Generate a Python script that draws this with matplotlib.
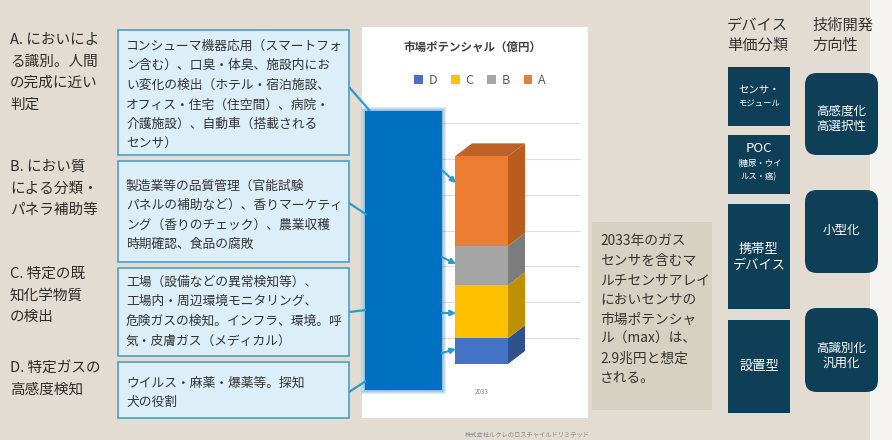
import matplotlib
matplotlib.use('Agg')
import matplotlib.pyplot as plt
import matplotlib.patches as mpatches
import matplotlib.transforms as mtransforms
import numpy as np

plt.rcParams['font.family'] = ['Noto Sans CJK JP', 'DejaVu Sans']

# ---------------- data ----------------
series = ['D', 'C', 'B', 'A']
values = [3600, 7400, 5500, 12500]          # 億円 (2033), total ≈ 2.9兆円
years = ['2033']
grid_ticks = [0, 5000, 10000, 15000, 20000, 25000, 30000]
chart_title = '市場ポテンシャル（億円）'
front_colors = ['#4472C4', '#FFC000', '#A5A5A5', '#ED7D31']
side_colors = ['#2F528F', '#BF9000', '#7C7C7C', '#B95D1F']
top_color = '#BE6327'

cat_labels = [
    ['A. においによ', 'る識別。人間', 'の完成に近い', '判定'],
    ['B. におい質', 'による分類・', 'パネラ補助等'],
    ['C. 特定の既', '知化学物質', 'の検出'],
    ['D. 特定ガスの', '高感度検知'],
]
use_texts = [
    ['コンシューマ機器応用（スマートフォ', 'ン含む）、口臭・体臭、施設内にお',
     'い変化の検出（ホテル・宿泊施設、', 'オフィス・住宅（住空間）、病院・',
     '介護施設）、自動車（搭載される', 'センサ）'],
    ['製造業等の品質管理（官能試験', 'パネルの補助など）、香りマーケティ',
     'ング（香りのチェック）、農業収穫', '時期確認、食品の腐敗'],
    ['工場（設備などの異常検知等）、', '工場内・周辺環境モニタリング、',
     '危険ガスの検知。インフラ、環境。呼', '気・皮膚ガス（メディカル）'],
    ['ウイルス・麻薬・爆薬等。探知', '犬の役割'],
]
summary_lines = ['2033年のガス', 'センサを含むマ', 'ルチセンサアレイ', 'においセンサの',
                 '市場ポテンシャ', 'ル（max）は、', '2.9兆円と想定', 'される。']
device_header = ['デバイス', '単価分類']
direction_header = ['技術開発', '方向性']
device_boxes = [
    [('センサ・', 7.5), ('モジュール', 6)],
    [('POC', 9.5), ('(糖尿・ウイ', 6), ('ルス・癌)', 6)],
    [('携帯型', 9.5), ('デバイス', 9.5)],
    [('設置型', 9.5)],
]
direction_boxes = [['高感度化', '高選択性'], ['小型化'], ['高識別化', '汎用化']]
credit = '株式会社ルクレのロスチャイルドリミテッド'

# ---------------- figure ----------------
W, H = 892, 440
fig = plt.figure(figsize=(W / 100, H / 100), dpi=100)
BG = '#E3DCD2'
fig.patch.set_facecolor(BG)


def fx(x):
    return x / W


def fy(y):
    return 1 - y / H


bg = fig.add_axes([0, 0, 1, 1], zorder=0)
bg.set_xlim(0, W)
bg.set_ylim(H, 0)
bg.axis('off')
bg.patch.set_alpha(0)

# right light strip
bg.add_patch(mpatches.Rectangle((870, 0), W - 870, H, fc='#F5F3EF', ec='none'))
# white chart panel
bg.add_patch(mpatches.Rectangle((362, 27), 226, 391, fc='white', ec='none'))
# summary box
bg.add_patch(mpatches.Rectangle((592, 222), 120, 188, fc='#D7D1C2', ec='none'))

DARK = '#2B2B2B'
# left category labels
label_y0 = [40, 167, 274, 368]
for lines, y0 in zip(cat_labels, label_y0):
    for i, ln in enumerate(lines):
        bg.text(10, y0 + i * 21.5, ln, fontsize=10.5, color=DARK, va='center', ha='left')

# light blue boxes
box_geo = [(30, 155), (161, 262), (268, 356), (362, 418)]
text_y0 = [46, 186, 282, 383]
for (y0, y1), lines, ty in zip(box_geo, use_texts, text_y0):
    bg.add_patch(mpatches.Rectangle((118, y0), 231, y1 - y0, fc='#DCEFF8', ec='#4E9FC4', lw=1.2))
    for i, ln in enumerate(lines):
        bg.text(126, ty + i * 19.6, ln, fontsize=9.2, color='#333333', va='center', ha='left')

# summary text
for i, ln in enumerate(summary_lines):
    bg.text(600, 241 + i * 19.6, ln, fontsize=9.9, color='#333333', va='center', ha='left')

# headers
for i, ln in enumerate(device_header):
    bg.text(727, 25 + i * 20, ln, fontsize=11, color='#333333', va='center', ha='left')
for i, ln in enumerate(direction_header):
    bg.text(812, 25 + i * 20, ln, fontsize=11, color='#333333', va='center', ha='left')

NAVY = '#0F3E57'
dev_geo = [(67, 126), (135, 194), (204, 309), (320, 413)]
dev_text_y = [[90, 103], [148, 164, 177], [249, 265], [366]]
for (y0, y1), items, tys in zip(dev_geo, device_boxes, dev_text_y):
    bg.add_patch(mpatches.Rectangle((728, y0), 62, y1 - y0, fc=NAVY, ec='none'))
    for (t, fs), ty in zip(items, tys):
        bg.text(759, ty, t, fontsize=fs, color='white', va='center', ha='center')

dir_geo = [(73, 155), (190, 273), (308, 392)]
dir_text_y = [[111, 126], [230], [348, 363]]
for (y0, y1), items, tys in zip(dir_geo, direction_boxes, dir_text_y):
    bg.add_patch(mpatches.FancyBboxPatch((805, y0), 73, y1 - y0,
                                         boxstyle='round,pad=0,rounding_size=12',
                                         fc=NAVY, ec='none'))
    for t, ty in zip(items, tys):
        bg.text(841.5, ty, t, fontsize=9, color='white', va='center', ha='center')

# credit
bg.text(527, 434, credit, fontsize=4.5, color='#8A8A8A', va='center', ha='center')

# chart title
bg.text(472, 47, chart_title, fontsize=8.3, color='#404040', fontweight='bold',
        va='center', ha='center')

# ---------------- 3D-like stacked bar ----------------
AX_L, AX_W = 420, 123          # px
BASE_Y = 364                   # px (front base)
PX_PER_UNIT_Y = 35.8 / 5000
ymax = grid_ticks[-1]
ax_h = ymax * PX_PER_UNIT_Y
ax = fig.add_axes([fx(AX_L), fy(BASE_Y), AX_W / W, ax_h / H], zorder=1)
ax.set_xlim(-0.5, 0.5)
ax.set_ylim(0, ymax)
ax.patch.set_alpha(0)
for s in ax.spines.values():
    s.set_visible(False)
ax.set_yticks([])

bw = 53 / AX_W
ddx = 17 / AX_W
ddy = 13 / PX_PER_UNIT_Y
wall_off = mtransforms.ScaledTranslation(0, 26 / 100, fig.dpi_scale_trans)
ax.hlines(grid_ticks, (440 - (AX_L + AX_W / 2)) / AX_W, (580 - (AX_L + AX_W / 2)) / AX_W,
          colors='#DDDDDD', lw=0.8, transform=ax.transData + wall_off,
          clip_on=False, zorder=0)

x_pos = np.arange(len(years))
bottoms = np.concatenate([[0], np.cumsum(values)[:-1]])
handles = []
for s, v, b, fc, sc in zip(series, values, bottoms, front_colors, side_colors):
    h = ax.bar(x_pos, [v], bottom=[b], width=bw, color=fc, zorder=3, label=s)
    handles.append(h)
    x1 = x_pos[0] + bw / 2
    ax.add_patch(mpatches.Polygon([(x1, b), (x1, b + v), (x1 + ddx, b + v + ddy), (x1 + ddx, b + ddy)],
                                  closed=True, fc=sc, ec='none', zorder=2, clip_on=False))
total = float(np.sum(values))
x0 = x_pos[0] - bw / 2
x1 = x_pos[0] + bw / 2
ax.add_patch(mpatches.Polygon([(x0, total), (x1, total), (x1 + ddx, total + ddy), (x0 + ddx, total + ddy)],
                              closed=True, fc=top_color, ec='none', zorder=2, clip_on=False))
ax.set_xticks(x_pos)
ax.set_xticklabels(years)
ax.tick_params(axis='x', length=0, pad=17, labelsize=4.5, labelcolor='#808080')

fig.legend(handles, series, loc='center', bbox_to_anchor=(fx(480), fy(80)), ncol=4,
           frameon=False, fontsize=9, handlelength=0.7, handleheight=0.7,
           handletextpad=0.45, columnspacing=1.1, labelcolor='#595959')

# ---------------- foreground: blue block and arrows ----------------
fg = fig.add_axes([0, 0, 1, 1], zorder=5)
fg.set_xlim(0, W)
fg.set_ylim(H, 0)
fg.axis('off')
fg.patch.set_alpha(0)

LINE = '#2A9AD2'
for (a, b) in [((349, 87), (370, 111)), ((349, 203), (367, 215)),
               ((349, 312), (366, 310)), ((349, 392), (366, 381))]:
    fg.plot([a[0], b[0]], [a[1], b[1]], color=LINE, lw=1.6, solid_capstyle='butt')

BLUE = '#0070C0'
for k in range(4, 0, -1):
    fg.add_patch(mpatches.Rectangle((365 - k, 111 - k), 77 + 2 * k, 279 + 2 * k,
                                    fc=BLUE, ec='none', alpha=0.13))
fg.add_patch(mpatches.Rectangle((365, 111), 77, 279, fc=BLUE, ec='none'))

for (a, b) in [((442, 170), (456, 183)), ((442, 257), (456, 264)),
               ((442, 313), (456, 313)), ((442, 353), (456, 349))]:
    fg.annotate('', xy=b, xytext=a,
                arrowprops=dict(arrowstyle='-|>', color=LINE, lw=1.5,
                                mutation_scale=8, shrinkA=0, shrinkB=0))

fig.savefig('out.png', dpi=100, facecolor=fig.get_facecolor())
